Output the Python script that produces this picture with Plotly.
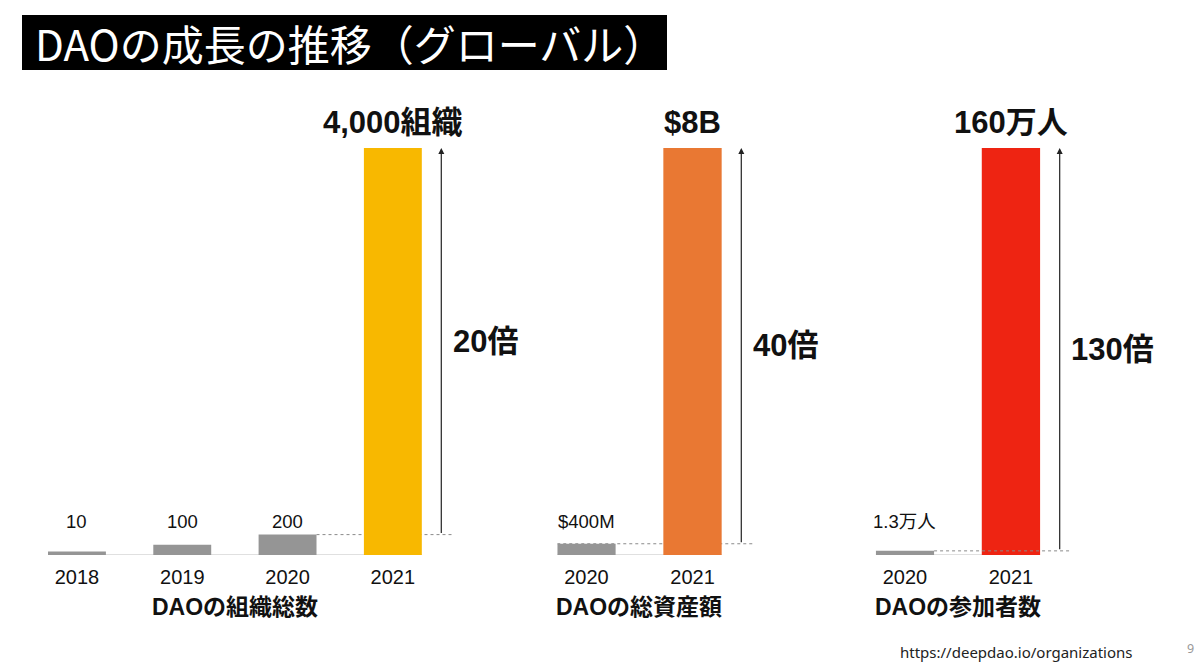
import plotly.graph_objects as go

# DAOの組織総数
org_years = ["2018", "2019", "2020", "2021"]
org_values = [35, 100, 200, 4000]
org_labels = ["10", "100", "200", "4,000組織"]

# DAOの総資産額（百万ドル）
asset_years = ["2020", "2021"]
asset_values = [220, 8000]
asset_labels = ["$400M", "$8B"]

# DAOの参加者数（万人）
member_years = ["2020", "2021"]
member_values = [1.6, 160]
member_labels = ["1.3万人", "160万人"]

growth_labels = ["20倍", "40倍", "130倍"]
subtitles = ["DAOの組織総数", "DAOの総資産額", "DAOの参加者数"]
highlight_colors = ["#F8B800", "#E97833", "#EE2412"]

FONT = "Liberation Sans, Arial, Noto Sans CJK JP"
GRAY = "#959595"

panels = [
    (org_years, org_values, org_labels),
    (asset_years, asset_values, asset_labels),
    (member_years, member_values, member_labels),
]
x_domains = [[0.04, 0.459], [0.4644, 0.7185], [0.7298, 0.9838]]
x_ranges = [[-0.275, 4.5], [-0.275, 2.6], [-0.275, 2.6]]
dash_start = [2.275, -0.275, 0.275]
y_domain = [0.168, 0.778]

fig = go.Figure()
shapes = []
annotations = []

for i, (years, values, labels) in enumerate(panels):
    n = i + 1
    xa = "x" if n == 1 else "x%d" % n
    ya = "y" if n == 1 else "y%d" % n
    last = len(years) - 1
    colors = [GRAY] * last + [highlight_colors[i]]

    fig.add_trace(go.Bar(x=years, y=values, marker=dict(color=colors, line=dict(width=0)),
                         xaxis=xa, yaxis=ya, hoverinfo="skip", showlegend=False))

    key = "" if n == 1 else str(n)
    fig.update_layout(**{
        "xaxis" + key: dict(domain=x_domains[i], range=x_ranges[i], type="category",
                            showgrid=False, zeroline=False, showline=False, ticks="",
                            tickfont=dict(family=FONT, size=20, color="#111"),
                            ticklabelstandoff=8, anchor=ya, fixedrange=True),
        "yaxis" + key: dict(domain=y_domain, range=[0, max(values)], visible=False,
                            anchor=xa, fixedrange=True),
    })

    # baseline
    shapes.append(dict(type="line", xref=xa, yref=ya, x0=-0.275, x1=last + 0.275, y0=0, y1=0,
                       line=dict(color="#d6d6d6", width=1.5), layer="below"))
    # dashed reference line
    shapes.append(dict(type="line", xref=xa, yref=ya, x0=dash_start[i], x1=last + 0.57,
                       y0=values[last - 1], y1=values[last - 1],
                       line=dict(color="#8a8a8a", width=1, dash="dot"),
                       layer="above" if n == 3 else "below"))

    # arrow
    annotations.append(dict(xref=xa, yref=ya, axref=xa, ayref=ya, x=last + 0.46, y=max(values),
                            ax=last + 0.46, ay=values[last - 1], text="", showarrow=True,
                            arrowhead=2, arrowsize=1, arrowwidth=1.2, arrowcolor="#222"))
    # growth label
    annotations.append(dict(xref=xa, yref=ya, x=last + 0.55, y=(values[last - 1] + max(values)) / 2,
                            text="<b>%s</b>" % growth_labels[i], showarrow=False, xanchor="left",
                            font=dict(family=FONT, size=31, color="#111")))
    # top label
    annotations.append(dict(xref=xa, yref=ya, x=last, y=max(values), text="<b>%s</b>" % labels[last],
                            showarrow=False, yanchor="bottom", yshift=6,
                            font=dict(family=FONT, size=31, color="#111")))
    # small value labels
    for j in range(last):
        annotations.append(dict(xref=xa, yref=ya, x=j, y=0, text=labels[j], showarrow=False,
                                yanchor="middle", yshift=33,
                                font=dict(family=FONT, size=18.5, color="#111")))
    # subtitle
    annotations.append(dict(xref=xa, yref=ya, x=last / 2, y=0, text="<b>%s</b>" % subtitles[i],
                            showarrow=False, yanchor="middle", yshift=-52,
                            font=dict(family=FONT, size=23, color="#111")))

# title box
shapes.append(dict(type="rect", xref="paper", yref="paper", x0=22 / 1200, x1=667 / 1200,
                   y0=1 - 70 / 667, y1=1 - 15 / 667, fillcolor="#000", line=dict(width=0)))
annotations.append(dict(xref="paper", yref="paper", x=33 / 1200, y=1 - 43 / 667,
                        text="DAOの成長の推移（グローバル）", showarrow=False,
                        xanchor="left", yanchor="middle",
                        font=dict(family="Noto Sans CJK JP", size=42, color="#fff")))
# source and page number
annotations.append(dict(xref="paper", yref="paper", x=1135 / 1200, y=1 - 652 / 667,
                        text="https://deepdao.io/organizations", showarrow=False,
                        xanchor="right", yanchor="middle",
                        font=dict(family="Noto Sans", size=15, color="#222")))
annotations.append(dict(xref="paper", yref="paper", x=1190 / 1200, y=1 - 648 / 667,
                        text="9", showarrow=False, xanchor="center", yanchor="middle",
                        font=dict(family="Noto Sans", size=12.5, color="#999")))

fig.update_layout(width=1200, height=667, margin=dict(l=0, r=0, t=0, b=0),
                  paper_bgcolor="white", plot_bgcolor="white", bargap=0.45,
                  shapes=shapes, annotations=annotations, showlegend=False)

# ページ余白をなくして 1200x667 にぴったり合わせる
fig.write_html("out.html", config={"displayModeBar": False},
               post_script="document.body.style.margin='0';")
